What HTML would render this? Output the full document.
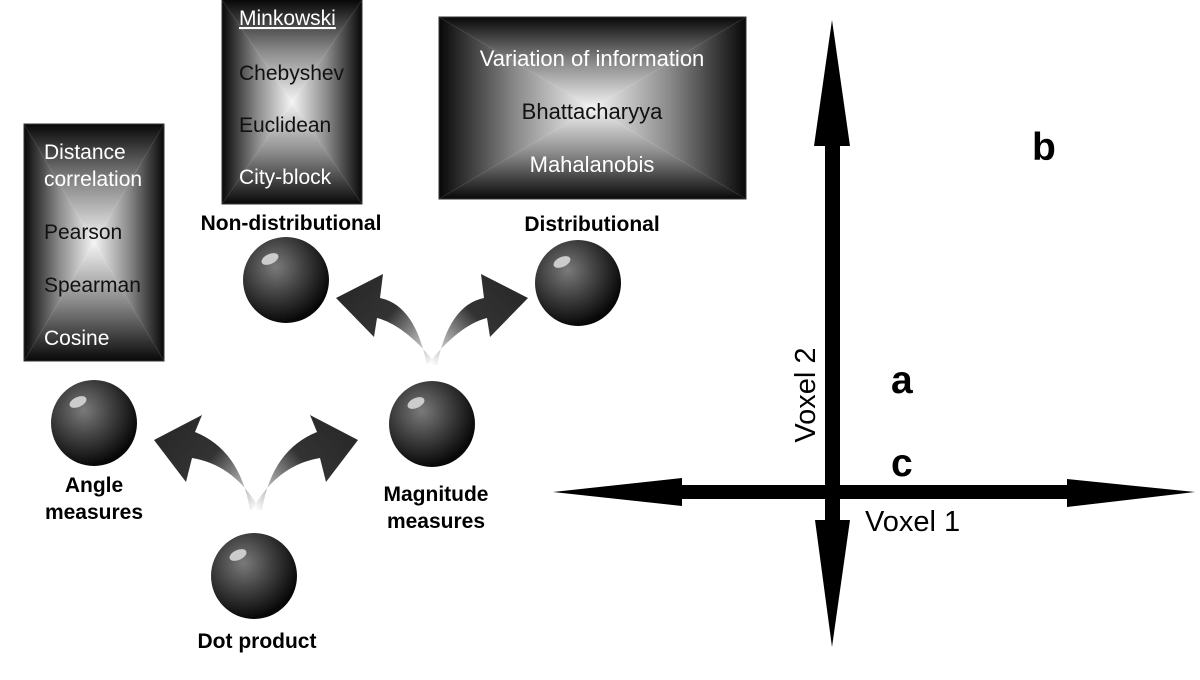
<!DOCTYPE html>
<html><head><meta charset="utf-8"><style>
html,body{margin:0;padding:0;background:#fff;}
svg{display:block;font-family:"Liberation Sans",sans-serif;}
</style></head><body>
<svg width="1200" height="680" viewBox="0 0 1200 680" xmlns="http://www.w3.org/2000/svg">
<defs>
<linearGradient id="gT" x1="0" y1="0" x2="0" y2="1"><stop offset="0" stop-color="#080808"/><stop offset="0.5" stop-color="#8a8a8a"/><stop offset="1" stop-color="#f4f4f4"/></linearGradient>
<linearGradient id="gB" x1="0" y1="1" x2="0" y2="0"><stop offset="0" stop-color="#080808"/><stop offset="0.5" stop-color="#8a8a8a"/><stop offset="1" stop-color="#f4f4f4"/></linearGradient>
<linearGradient id="gL" x1="0" y1="0" x2="1" y2="0"><stop offset="0" stop-color="#080808"/><stop offset="0.5" stop-color="#8a8a8a"/><stop offset="1" stop-color="#f4f4f4"/></linearGradient>
<linearGradient id="gR" x1="1" y1="0" x2="0" y2="0"><stop offset="0" stop-color="#080808"/><stop offset="0.5" stop-color="#8a8a8a"/><stop offset="1" stop-color="#f4f4f4"/></linearGradient>
<radialGradient id="sph" cx="0.38" cy="0.35" r="0.65"><stop offset="0" stop-color="#7a7a7a"/><stop offset="0.5" stop-color="#404040"/><stop offset="1" stop-color="#080808"/></radialGradient>
<linearGradient id="aL1" gradientUnits="userSpaceOnUse" x1="256" y1="510" x2="170" y2="435"><stop offset="0" stop-color="#fff"/><stop offset="0.6" stop-color="#333"/><stop offset="1" stop-color="#2a2a2a"/></linearGradient>
<linearGradient id="aR1" gradientUnits="userSpaceOnUse" x1="256" y1="510" x2="342" y2="435"><stop offset="0" stop-color="#fff"/><stop offset="0.6" stop-color="#333"/><stop offset="1" stop-color="#2a2a2a"/></linearGradient>
<linearGradient id="aL2" gradientUnits="userSpaceOnUse" x1="432" y1="365" x2="350" y2="295"><stop offset="0" stop-color="#fff"/><stop offset="0.6" stop-color="#333"/><stop offset="1" stop-color="#2a2a2a"/></linearGradient>
<linearGradient id="aR2" gradientUnits="userSpaceOnUse" x1="432" y1="365" x2="514" y2="295"><stop offset="0" stop-color="#fff"/><stop offset="0.6" stop-color="#333"/><stop offset="1" stop-color="#2a2a2a"/></linearGradient>
</defs>

<g>
<polygon points="24,124 164,124 94,242.5" fill="url(#gT)"/>
<polygon points="24,361 164,361 94,242.5" fill="url(#gB)"/>
<polygon points="24,124 24,361 94,242.5" fill="url(#gL)"/>
<polygon points="164,124 164,361 94,242.5" fill="url(#gR)"/>
</g>
<rect x="24" y="124" width="140" height="237" fill="none" stroke="#333" stroke-width="1"/>
<g font-size="21">
<text x="44" y="159" fill="#fff">Distance</text>
<text x="44" y="186" fill="#fff">correlation</text>
<text x="44" y="239" fill="#111">Pearson</text>
<text x="44" y="292" fill="#111">Spearman</text>
<text x="44" y="345" fill="#fff">Cosine</text>
</g>

<g>
<polygon points="222,0 362,0 292,102" fill="url(#gT)"/>
<polygon points="222,204 362,204 292,102" fill="url(#gB)"/>
<polygon points="222,0 222,204 292,102" fill="url(#gL)"/>
<polygon points="362,0 362,204 292,102" fill="url(#gR)"/>
</g>
<rect x="222" y="-1" width="140" height="205" fill="none" stroke="#333" stroke-width="1"/>
<g font-size="21">
<text x="239" y="25" fill="#fff" text-decoration="underline">Minkowski</text>
<text x="239" y="80" fill="#111">Chebyshev</text>
<text x="239" y="132" fill="#111">Euclidean</text>
<text x="239" y="184" fill="#fff">City-block</text>
</g>

<g>
<polygon points="439,17 746,17 592.5,108" fill="url(#gT)"/>
<polygon points="439,199 746,199 592.5,108" fill="url(#gB)"/>
<polygon points="439,17 439,199 592.5,108" fill="url(#gL)"/>
<polygon points="746,17 746,199 592.5,108" fill="url(#gR)"/>
</g>
<rect x="439" y="17" width="307" height="182" fill="none" stroke="#333" stroke-width="1"/>
<g font-size="22" text-anchor="middle">
<text x="592" y="66" fill="#fff">Variation of information</text>
<text x="592" y="119" fill="#111">Bhattacharyya</text>
<text x="592" y="172" fill="#fff">Mahalanobis</text>
</g>

<path d="M250,510 Q240,450 195,432 L202,415 L154,440 L186,482 L192,458 Q235,465 260,510 Z" fill="url(#aL1)"/>
<path d="M262,510 Q272,450 317,432 L310,415 L358,440 L326,482 L320,458 Q277,465 252,510 Z" fill="url(#aR1)"/>
<path d="M427,365 Q415,305 380,298 L383,274 L336,298 L374,337 L377,318 Q405,325 437,365 Z" fill="url(#aL2)"/>
<path d="M437,365 Q449,305 484,298 L481,274 L528,298 L490,337 L487,318 Q459,325 427,365 Z" fill="url(#aR2)"/>

<g>
<circle cx="94" cy="423" r="43" fill="url(#sph)"/><ellipse cx="78" cy="402" rx="9" ry="5" fill="#ccc" transform="rotate(-25 78 402)"/>
<circle cx="432" cy="424" r="43" fill="url(#sph)"/><ellipse cx="416" cy="403" rx="9" ry="5" fill="#ccc" transform="rotate(-25 416 403)"/>
<circle cx="254" cy="576" r="43" fill="url(#sph)"/><ellipse cx="238" cy="555" rx="9" ry="5" fill="#ccc" transform="rotate(-25 238 555)"/>
<circle cx="286" cy="280" r="43" fill="url(#sph)"/><ellipse cx="270" cy="259" rx="9" ry="5" fill="#ccc" transform="rotate(-25 270 259)"/>
<circle cx="578" cy="283" r="43" fill="url(#sph)"/><ellipse cx="562" cy="262" rx="9" ry="5" fill="#ccc" transform="rotate(-25 562 262)"/>
</g>

<g font-size="21" font-weight="bold" text-anchor="middle" fill="#000">
<text x="94" y="492">Angle</text>
<text x="94" y="519">measures</text>
<text x="436" y="501">Magnitude</text>
<text x="436" y="528">measures</text>
<text x="257" y="648">Dot product</text>
<text x="291" y="230">Non-distributional</text>
<text x="592" y="231">Distributional</text>
</g>

<rect x="825" y="140" width="15" height="385" fill="#000"/>
<polygon points="832,20 814,146 850,146" fill="#000"/>
<polygon points="832,647 815,520 850,520" fill="#000"/>
<rect x="670" y="485" width="400" height="14" fill="#000"/>
<polygon points="553,492 682,478 682,506" fill="#000"/>
<polygon points="1195,492 1067,479 1067,507" fill="#000"/>

<text x="0" y="0" font-size="29" text-anchor="middle" transform="translate(815,395) rotate(-90)">Voxel 2</text>
<text x="865" y="531" font-size="29">Voxel 1</text>
<g font-size="39" font-weight="bold">
<text x="891" y="393">a</text>
<text x="891" y="476">c</text>
<text x="1032" y="160">b</text>
</g>
</svg>
</body></html>
